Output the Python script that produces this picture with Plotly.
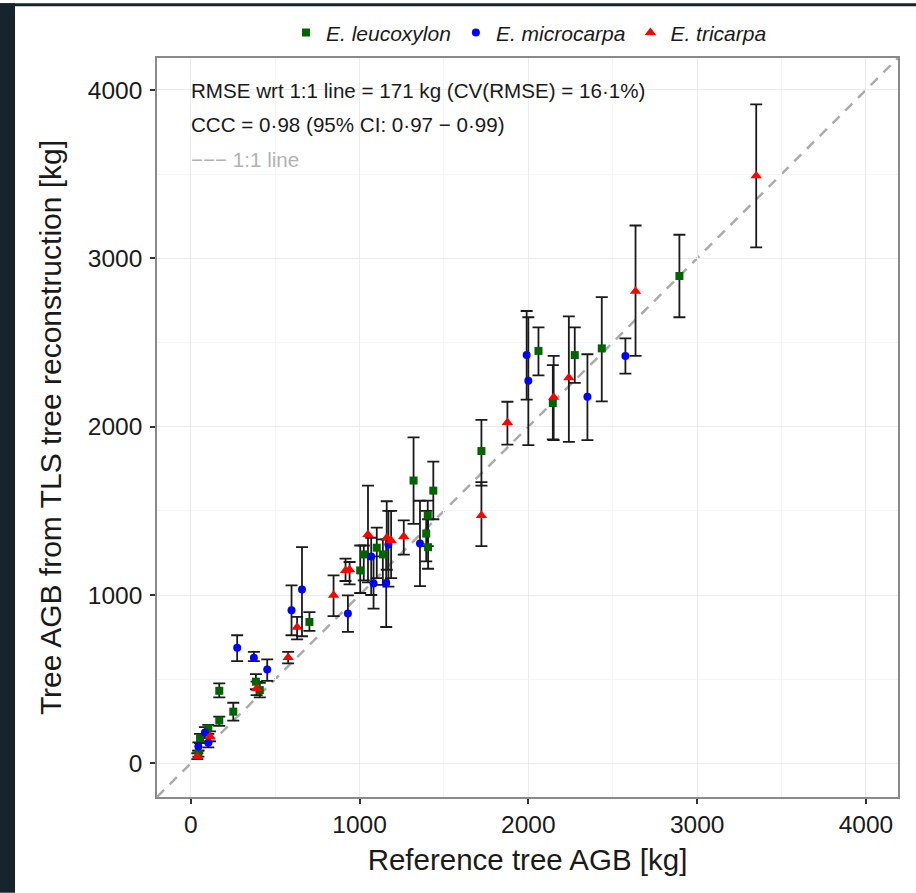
import plotly.graph_objects as go

# Reference vs TLS-reconstructed above-ground biomass, per species.
# Each series: reference AGB, TLS AGB, lower and upper bounds of the TLS estimate [kg]
leuco_ref = [2895, 2435, 2275, 2145, 2060, 1722, 1320, 1437, 1404, 1395, 1406, 1138,
             1102, 1025, 1004, 703, 409, 386, 252, 169, 169, 104, 55, 45]
leuco_tls = [2895, 2465, 2425, 2140, 2450, 1855, 1680, 1620, 1472, 1365, 1284, 1241,
             1281, 1241, 1146, 840, 435, 485, 307, 431, 254, 208, 149, 56]
leuco_lo = [2650, 2150, 2260, 1925, 2305, 1650, 1423, 1450, 1290, 1200, 1156, 1060,
            1100, 1087, 1012, 787, 392, 440, 254, 392, 222, 175, 120, 40]
leuco_hi = [3140, 2770, 2590, 2365, 2590, 2040, 1936, 1792, 1561, 1500, 1450, 1330,
            1400, 1294, 1294, 898, 478, 530, 360, 475, 277, 228, 175, 75]

micro_ref = [2575, 2350, 1990, 2000, 1358, 1171, 1158, 1083, 1069, 931, 659, 597,
             453, 374, 275, 84, 104, 45]
micro_tls = [2420, 2177, 2425, 2272, 1306, 1300, 1071, 1068, 1229, 890, 1032, 909,
             558, 627, 686, 183, 123, 100]
micro_lo = [2315, 1920, 2160, 1890, 1053, 1050, 810, 919, 1000, 781, 755, 761,
            490, 607, 607, 150, 95, 75]
micro_hi = [2525, 2430, 2687, 2650, 1560, 1500, 1330, 1230, 1340, 998, 1284, 1057,
            617, 662, 761, 215, 150, 125]

tri_ref = [3350, 2635, 2240, 2150, 1876, 1722, 1262, 1161, 1187, 1050, 941, 917,
           846, 630, 577, 390, 114, 39]
tri_tls = [3490, 2805, 2290, 2175, 2025, 1472, 1348, 1340, 1324, 1360, 1150, 1145,
           998, 808, 629, 445, 159, 40]
tri_lo = [3065, 2420, 1910, 1920, 1893, 1290, 1240, 1150, 1100, 1075, 1063, 1083,
          874, 736, 594, 405, 130, 25]
tri_hi = [3915, 3195, 2655, 2420, 2148, 1670, 1443, 1557, 1500, 1650, 1196, 1216,
          1117, 870, 662, 485, 190, 60]

species = ["E. leucoxylon", "E. microcarpa", "E. tricarpa"]
tick_vals = [0, 1000, 2000, 3000, 4000]
tick_text = ["0", "1000", "2000", "3000", "4000"]
axis_min, axis_max = -200, 4190

stats_lines = [
    "RMSE wrt 1:1 line = 171 kg (CV(RMSE) = 16·1%)",
    "CCC = 0·98 (95% CI: 0·97 − 0·99)",
]
one_to_one_label = "−−− 1:1 line"

FONT = "Liberation Sans, Arial, Helvetica, sans-serif"

series = [
    (species[0], leuco_ref, leuco_tls, leuco_lo, leuco_hi, "square", "#006400", 8),
    (species[1], micro_ref, micro_tls, micro_lo, micro_hi, "circle", "#0000FF", 8),
    (species[2], tri_ref, tri_tls, tri_lo, tri_hi, "triangle-up", "#FF0000", 10),
]

fig = go.Figure()

# error bars first, so every marker sits on top of them
all_x, all_y, all_up, all_down = [], [], [], []
for _, xs, ys, lo, hi, *_ in series:
    all_x += xs
    all_y += ys
    all_up += [h - v for h, v in zip(hi, ys)]
    all_down += [v - l for v, l in zip(ys, lo)]

fig.add_trace(go.Scatter(
    x=all_x, y=all_y, mode="markers",
    marker=dict(size=1, opacity=0),
    error_y=dict(type="data", symmetric=False, array=all_up, arrayminus=all_down,
                 color="#1a1a1a", thickness=1.8, width=6),
    showlegend=False, hoverinfo="skip",
))

for name, xs, ys, lo, hi, sym, col, size in series:
    fig.add_trace(go.Scatter(
        x=xs, y=ys, mode="markers", name=f"<i>{name}</i>",
        marker=dict(symbol=sym, color=col, size=size, line=dict(width=0)),
    ))

# 1:1 reference line
fig.add_shape(type="line", xref="x", yref="y",
              x0=axis_min, y0=axis_min, x1=axis_max, y1=axis_max,
              line=dict(color="#ababab", width=2.5, dash="10px,8px"), layer="below")

for i, txt in enumerate(stats_lines):
    fig.add_annotation(xref="paper", yref="paper", x=0.043, y=0.9555 - i * 0.0458,
                       xanchor="left", yanchor="middle", text=txt, showarrow=False,
                       font=dict(family=FONT, size=20.6, color="#1a1a1a"))
fig.add_annotation(xref="paper", yref="paper", x=0.043, y=0.8625,
                   xanchor="left", yanchor="middle", text=one_to_one_label, showarrow=False,
                   font=dict(family=FONT, size=20.6, color="#b3b3b3"))

# dark frame strips along the left and top edges of the page
fig.add_shape(type="rect", xref="paper", yref="paper", x0=-0.2119, x1=-0.1916,
              y0=-0.1294, y1=1.0741, fillcolor="#17242d", line=dict(width=0), layer="above")
fig.add_shape(type="rect", xref="paper", yref="paper", x0=-0.2119, x1=1.0243,
              y0=1.0701, y1=1.0741, fillcolor="#17242d", line=dict(width=0), layer="above")

axis_common = dict(
    range=[axis_min, axis_max], tickvals=tick_vals, ticktext=tick_text,
    showgrid=True, gridcolor="#ebebeb", gridwidth=1.3,
    minor=dict(dtick=500, tick0=0, showgrid=True, gridcolor="#f4f4f4", gridwidth=1),
    zeroline=False, showline=True, linecolor="#8a8a8a", linewidth=1.5, mirror=True,
    ticks="outside", ticklen=5, tickwidth=1.5, tickcolor="#333333",
    tickfont=dict(family=FONT, size=24.5, color="#1a1a1a"),
)

fig.update_layout(
    width=916, height=893,
    margin=dict(l=157, r=18, t=55, b=96),
    paper_bgcolor="white", plot_bgcolor="white",
    xaxis=dict(**axis_common,
               title=dict(text="Reference tree AGB [kg]", standoff=12,
                          font=dict(family=FONT, size=29.5, color="#1a1a1a"))),
    yaxis=dict(**axis_common,
               title=dict(text="Tree AGB from TLS tree reconstruction [kg]", standoff=17,
                          font=dict(family=FONT, size=30, color="#1a1a1a"))),
    legend=dict(orientation="h", x=0.502, xanchor="center", y=1.034, yanchor="middle",
                font=dict(family=FONT, size=21, color="#1a1a1a"),
                itemsizing="trace", bgcolor="rgba(0,0,0,0)", tracegroupgap=0),
    showlegend=True,
)
fig.update_yaxes(ticklabelstandoff=3)

fig.write_html("out.html")
